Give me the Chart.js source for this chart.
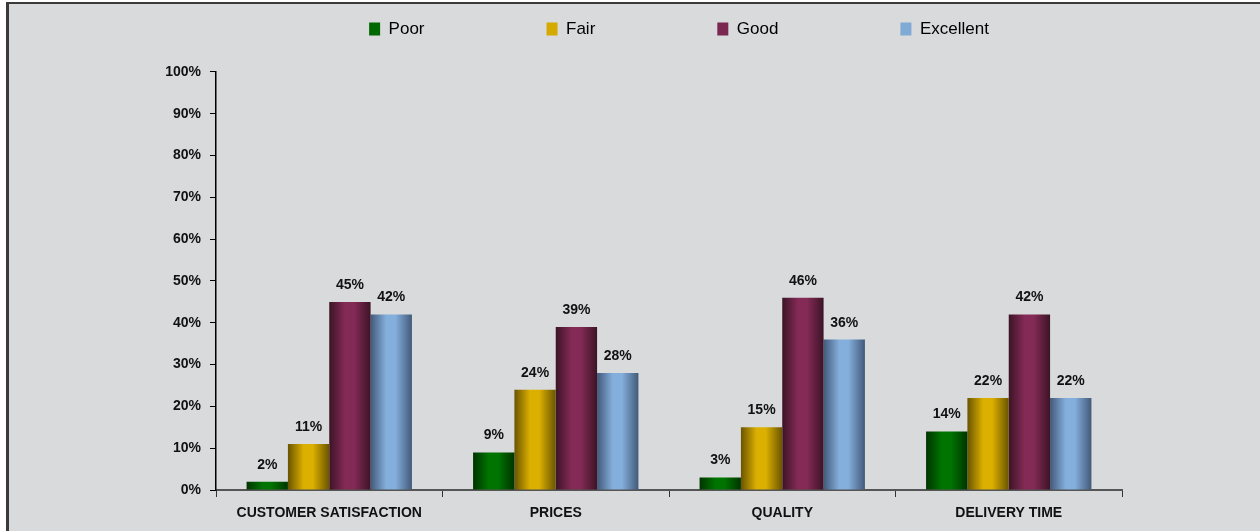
<!DOCTYPE html>
<html>
<head>
<meta charset="utf-8">
<script src="https://cdn.jsdelivr.net/npm/chart.js@4.4.0/dist/chart.umd.min.js"></script>
<style>
    body { margin: 0; background: #fff; }
    #frame {
        position: absolute; left: 6px; top: 2px; width: 1251px; height: 527px;
        border-left: 3px solid #3a3a3a; border-top: 2px solid #3a3a3a;
        background: #d9dadc;
    }
    #chart { position: absolute; left: 0; top: 0; }
</style>
</head>
<body>
<div id="frame"></div>
<canvas id="chart" width="1260" height="531"></canvas>
<script>
var categories = ['CUSTOMER SATISFACTION', 'PRICES', 'QUALITY', 'DELIVERY TIME'];
var seriesNames = ['Poor', 'Fair', 'Good', 'Excellent'];
var poor = [2, 9, 3, 14];
var fair = [11, 24, 15, 22];
var good = [45, 39, 46, 42];
var excellent = [42, 28, 36, 22];

var fontFamily = '"Liberation Sans", Arial, sans-serif';
var groupPercent = 0.73;

// cylinder look: dark edges, light middle, one gradient per bar
function barGradient(dark, light) {
    return function(context) {
        var chart = context.chart;
        var xs = chart.scales.x;
        if (!xs || context.dataIndex === undefined) {
            return light;
        }
        var catW = xs.width / categories.length;
        var groupW = catW * groupPercent;
        var barW = groupW / chart.data.datasets.length;
        var left = xs.getPixelForValue(context.dataIndex) - groupW / 2 + context.datasetIndex * barW;
        var g = chart.ctx.createLinearGradient(left, 0, left + barW, 0);
        g.addColorStop(0, dark);
        g.addColorStop(0.38, light);
        g.addColorStop(0.6, light);
        g.addColorStop(1, dark);
        return g;
    };
}

var legendColors = ['#006800', '#d4aa00', '#7a2850', '#80aad6'];

var valueLabels = {
    id: 'valueLabels',
    afterDatasetsDraw: function(chart) {
        var ctx = chart.ctx;
        ctx.save();
        ctx.font = 'bold 14px ' + fontFamily;
        ctx.fillStyle = '#111';
        ctx.textAlign = 'center';
        ctx.textBaseline = 'alphabetic';
        chart.data.datasets.forEach(function(ds, i) {
            chart.getDatasetMeta(i).data.forEach(function(bar, j) {
                ctx.fillText(ds.data[j] + '%', bar.x, bar.y - 13);
            });
        });
        ctx.restore();
    }
};

// the legend in the original sits a bit right of the plot centre
var legendNudge = {
    id: 'legendNudge',
    afterLayout: function(chart) {
        chart.legend.left += 10;
        chart.legend.right += 10;
    }
};

var chartData = {
    labels: categories,
    datasets: [{
        label: seriesNames[0],
        data: poor,
        backgroundColor: barGradient('#003400', '#007400')
    }, {
        label: seriesNames[1],
        data: fair,
        backgroundColor: barGradient('#6a5400', '#dcb000')
    }, {
        label: seriesNames[2],
        data: good,
        backgroundColor: barGradient('#3c1426', '#842a56')
    }, {
        label: seriesNames[3],
        data: excellent,
        backgroundColor: barGradient('#42597a', '#84afdc')
    }]
};

var chartOptions = {
    responsive: false,
    animation: false,
    layout: {
        padding: { top: -101.5, right: 138, bottom: 0, left: 0 }
    },
    datasets: {
        bar: {
            categoryPercentage: groupPercent,
            barPercentage: 1,
            borderWidth: 0
        }
    },
    scales: {
        x: {
            grid: { drawOnChartArea: false, tickLength: 7, color: '#333', offset: true },
            border: { color: '#555', width: 2 },
            ticks: {
                color: '#111',
                padding: 8,
                maxRotation: 0,
                font: { family: fontFamily, size: 14, weight: 'bold' }
            },
            afterFit: function(scale) { scale.height = 41; }
        },
        y: {
            min: 0,
            max: 100,
            grid: { drawOnChartArea: false, tickLength: 6, color: '#000' },
            border: { color: '#000', width: 1.5 },
            ticks: {
                stepSize: 10,
                color: '#111',
                padding: 9,
                font: { family: fontFamily, size: 14, weight: 'bold' },
                callback: function(value) { return value + '%'; }
            },
            afterFit: function(scale) { scale.width = 216; }
        }
    },
    plugins: {
        legend: {
            position: 'top',
            fullSize: false,
            weight: 3000,
            labels: {
                boxWidth: 11,
                boxHeight: 13,
                padding: 122,
                color: '#111',
                font: { family: fontFamily, size: 17 },
                generateLabels: function(chart) {
                    return chart.data.datasets.map(function(ds, i) {
                        return {
                            text: ds.label,
                            fillStyle: legendColors[i],
                            strokeStyle: legendColors[i],
                            lineWidth: 0,
                            hidden: false,
                            datasetIndex: i
                        };
                    });
                }
            }
        },
        // empty title, only used as a gap between legend and plot
        title: {
            display: true,
            text: '',
            padding: 0,
            font: { size: 20.4, lineHeight: 1.2 }
        },
        tooltip: { enabled: false }
    }
};

var barChart = new Chart(document.getElementById('chart').getContext('2d'), {
    type: 'bar',
    data: chartData,
    options: chartOptions,
    plugins: [valueLabels, legendNudge]
});
</script>
</body>
</html>
